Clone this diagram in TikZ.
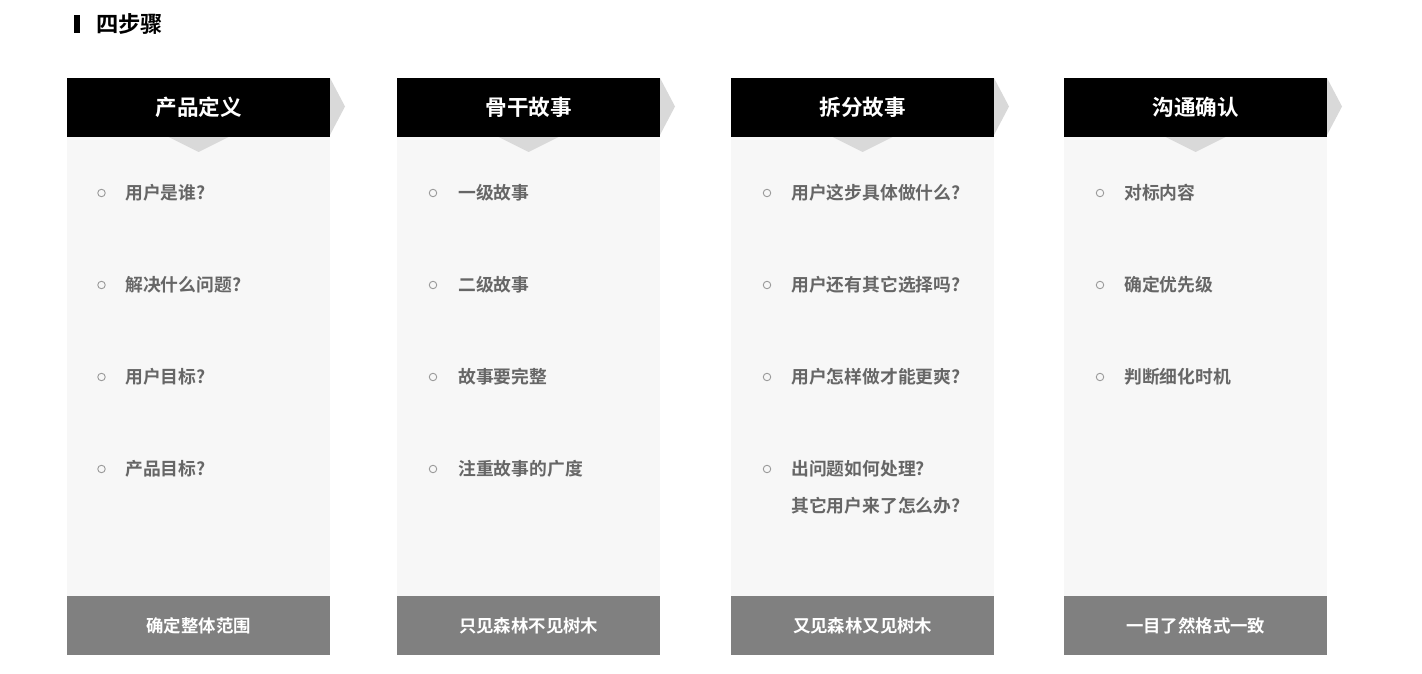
\documentclass[tikz,border=0pt]{standalone}
\usepackage{fontspec}
\newfontfamily\cjk{Noto Sans CJK SC}[BoldFont={Noto Sans CJK SC Bold}]
\definecolor{bodybg}{HTML}{F7F7F7}
\definecolor{footbg}{HTML}{808080}
\definecolor{arrowgray}{HTML}{D9D9D9}
\definecolor{itemtxt}{HTML}{666666}
\definecolor{dotgray}{HTML}{9A9A9A}
\tikzset{
  headbox/.style={fill=black, draw=none, minimum width=263pt, minimum height=59pt, inner sep=0pt, text=white, font=\cjk\bfseries\fontsize{21.6}{26}\selectfont},
  bodybox/.style={fill=bodybg, draw=none, minimum width=263pt, minimum height=459pt, inner sep=0pt},
  footbox/.style={fill=footbg, draw=none, minimum width=263pt, minimum height=59pt, inner sep=0pt, text=white, font=\cjk\bfseries\fontsize{17.4}{21}\selectfont},
  itemtext/.style={anchor=west, inner sep=0pt, text=itemtxt, font=\cjk\bfseries\fontsize{17.8}{21}\selectfont},
  dot/.style={circle, draw=dotgray, line width=0.9pt, minimum size=7.5pt, inner sep=0pt},
  arrowtri/.style={fill=arrowgray, draw=none}
}
\begin{document}
\begin{tikzpicture}[x=1pt,y=-1pt]
\useasboundingbox (0,0) rectangle (1422,674);
\fill[white] (0,0) rectangle (1422,674);
% page title
\fill[black] (74,15) rectangle (79.5,33);
\node[anchor=west, inner sep=0pt, font=\cjk\bfseries\fontsize{22.3}{26}\selectfont] (title) at (96,24) {四步骤};
% columns
\foreach \i/\x/\h/\f in {1/67/产品定义/确定整体范围, 2/397/骨干故事/只见森林不见树木, 3/731/拆分故事/又见森林又见树木, 4/1064/沟通确认/一目了然格式一致}{
  \node[bodybox, anchor=north west] (body\i) at (\x,137) {};
  \fill[arrowtri] (\x+263,78) -- (\x+278,106.5) -- (\x+263,135) -- cycle;
  \fill[arrowtri] (\x+101.5,137) -- (\x+131.5,152) -- (\x+161.5,137) -- cycle;
  \node[headbox, anchor=north west] (head\i) at (\x,78) {\h};
  \node[footbox, anchor=north west] (foot\i) at (\x,596) {\f};
}
% items: column 1
\node[dot] (b11) at (101.5,193) {};
\node[itemtext] (t11) at (125,193) {用户是谁?};
\node[dot] (b12) at (101.5,285) {};
\node[itemtext] (t12) at (125,285) {解决什么问题?};
\node[dot] (b13) at (101.5,377) {};
\node[itemtext] (t13) at (125,377) {用户目标?};
\node[dot] (b14) at (101.5,469) {};
\node[itemtext] (t14) at (125,469) {产品目标?};
% column 2
\node[dot] (b21) at (433,193) {};
\node[itemtext] (t21) at (458,193) {一级故事};
\node[dot] (b22) at (433,285) {};
\node[itemtext] (t22) at (458,285) {二级故事};
\node[dot] (b23) at (433,377) {};
\node[itemtext] (t23) at (458,377) {故事要完整};
\node[dot] (b24) at (433,469) {};
\node[itemtext] (t24) at (458,469) {注重故事的广度};
% column 3
\node[dot] (b31) at (767,193) {};
\node[itemtext] (t31) at (791,193) {用户这步具体做什么?};
\node[dot] (b32) at (767,285) {};
\node[itemtext] (t32) at (791,285) {用户还有其它选择吗?};
\node[dot] (b33) at (767,377) {};
\node[itemtext] (t33) at (791,377) {用户怎样做才能更爽?};
\node[dot] (b34) at (767,469) {};
\node[itemtext] (t34) at (791,469) {出问题如何处理?};
\node[itemtext] (t35) at (791,506) {其它用户来了怎么办?};
% column 4
\node[dot] (b41) at (1100,193) {};
\node[itemtext] (t41) at (1124,193) {对标内容};
\node[dot] (b42) at (1100,285) {};
\node[itemtext] (t42) at (1124,285) {确定优先级};
\node[dot] (b43) at (1100,377) {};
\node[itemtext] (t43) at (1124,377) {判断细化时机};
\end{tikzpicture}
\end{document}
